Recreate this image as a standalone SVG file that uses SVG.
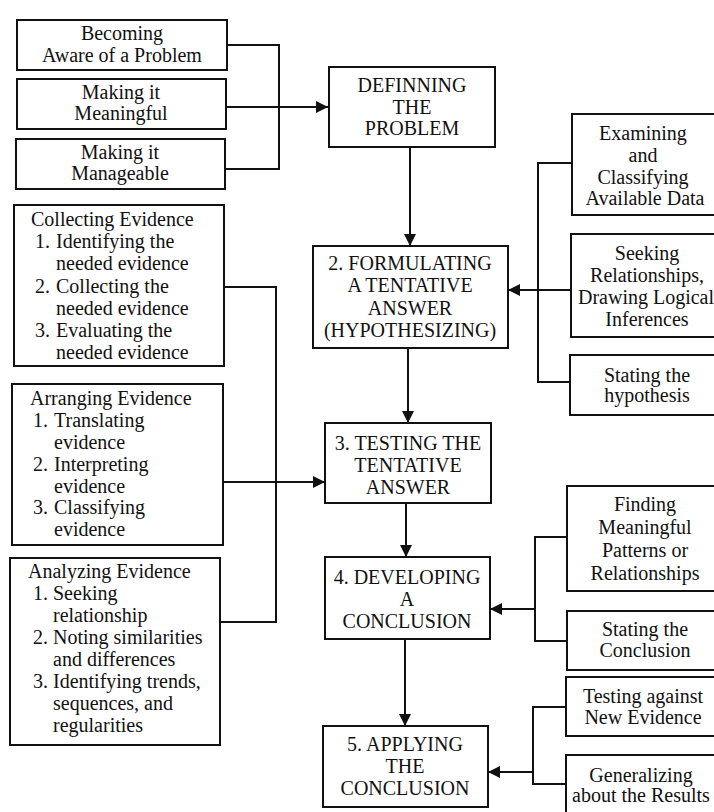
<svg xmlns="http://www.w3.org/2000/svg" width="714" height="812" viewBox="0 0 714 812">
  <style>
    .box { fill: #ffffff; stroke: #111111; stroke-width: 2; }
    .wire { fill: none; stroke: #111111; stroke-width: 2; }
    text { font-family: "Liberation Serif", "Times New Roman", serif; font-size: 20px; fill: #111111; }
    .c { text-anchor: middle; }
  </style>
  <defs>
    <marker id="arrow" markerUnits="userSpaceOnUse" markerWidth="12" markerHeight="12" refX="12" refY="6" orient="auto">
      <path d="M0,0 L12,6 L0,12 z" fill="#111111"/>
    </marker>
  </defs>

  <rect width="714" height="812" fill="#ffffff"/>

  <!-- connectors -->
  <g id="connectors">
    <!-- top-left bracket into step 1 -->
    <polyline class="wire" points="227,45 279,45 279,169 225,169"/>
    <line class="wire" x1="226" y1="107" x2="328" y2="107" marker-end="url(#arrow)"/>
    <!-- main vertical flow -->
    <line class="wire" x1="410" y1="147" x2="410" y2="246" marker-end="url(#arrow)"/>
    <line class="wire" x1="408" y1="348" x2="408" y2="423" marker-end="url(#arrow)"/>
    <line class="wire" x1="406" y1="503" x2="406" y2="557" marker-end="url(#arrow)"/>
    <line class="wire" x1="405" y1="639" x2="405" y2="726" marker-end="url(#arrow)"/>
    <!-- right bracket into step 2 -->
    <polyline class="wire" points="572,163 538,163 538,382 570,382"/>
    <line class="wire" x1="571" y1="290" x2="508" y2="290" marker-end="url(#arrow)"/>
    <!-- left evidence bracket into step 3 -->
    <polyline class="wire" points="224,287 276,287 276,622 220,622"/>
    <line class="wire" x1="223" y1="482" x2="325" y2="482" marker-end="url(#arrow)"/>
    <!-- right bracket into step 4 -->
    <polyline class="wire" points="567,537 535,537 535,641 567,641"/>
    <line class="wire" x1="535" y1="609" x2="490" y2="609" marker-end="url(#arrow)"/>
    <!-- right bracket into step 5 -->
    <polyline class="wire" points="566,707 533,707 533,784 566,784"/>
    <line class="wire" x1="533" y1="772" x2="488" y2="772" marker-end="url(#arrow)"/>
  </g>

  <!-- inputs to defining the problem -->
  <g id="aware">
    <rect class="box" x="17" y="20" width="210" height="50"/>
    <text class="c" x="122" y="40">Becoming</text>
    <text class="c" x="122" y="62">Aware of a Problem</text>
  </g>
  <g id="meaningful">
    <rect class="box" x="17" y="79" width="209" height="50"/>
    <text class="c" x="121" y="99">Making it</text>
    <text class="c" x="121" y="120">Meaningful</text>
  </g>
  <g id="manageable">
    <rect class="box" x="16" y="139" width="209" height="50"/>
    <text class="c" x="120" y="159">Making it</text>
    <text class="c" x="120" y="180">Manageable</text>
  </g>

  <!-- main steps -->
  <g id="step1">
    <rect class="box" x="329" y="67" width="166" height="80"/>
    <text class="c" x="412" y="92">DEFINNING</text>
    <text class="c" x="412" y="114">THE</text>
    <text class="c" x="412" y="135">PROBLEM</text>
  </g>
  <g id="step2">
    <rect class="box" x="313" y="246" width="195" height="102"/>
    <text class="c" x="410" y="270">2. FORMULATING</text>
    <text class="c" x="410" y="292">A TENTATIVE</text>
    <text class="c" x="410" y="315">ANSWER</text>
    <text class="c" x="410" y="337">(HYPOTHESIZING)</text>
  </g>
  <g id="step3">
    <rect class="box" x="325" y="423" width="166" height="80"/>
    <text class="c" x="408" y="450">3. TESTING THE</text>
    <text class="c" x="408" y="472">TENTATIVE</text>
    <text class="c" x="408" y="494">ANSWER</text>
  </g>
  <g id="step4">
    <rect class="box" x="325" y="557" width="165" height="82"/>
    <text class="c" x="407" y="584">4. DEVELOPING</text>
    <text class="c" x="407" y="606">A</text>
    <text class="c" x="407" y="628">CONCLUSION</text>
  </g>
  <g id="step5">
    <rect class="box" x="323" y="726" width="165" height="81"/>
    <text class="c" x="405" y="751">5. APPLYING</text>
    <text class="c" x="405" y="773">THE</text>
    <text class="c" x="405" y="795">CONCLUSION</text>
  </g>

  <!-- hypothesis sub-steps -->
  <g id="examining">
    <rect class="box" x="572" y="114" width="146" height="101"/>
    <text class="c" x="643" y="140">Examining</text>
    <text class="c" x="643" y="162">and</text>
    <text class="c" x="643" y="184">Classifying</text>
    <text class="c" x="645" y="205">Available Data</text>
  </g>
  <g id="seeking">
    <rect class="box" x="571" y="234" width="147" height="103"/>
    <text class="c" x="647" y="260">Seeking</text>
    <text class="c" x="647" y="282">Relationships,</text>
    <text class="c" x="646" y="304">Drawing Logical</text>
    <text class="c" x="647" y="326">Inferences</text>
  </g>
  <g id="stating-hypothesis">
    <rect class="box" x="570" y="355" width="148" height="60"/>
    <text class="c" x="647" y="382">Stating the</text>
    <text class="c" x="647" y="402">hypothesis</text>
  </g>

  <!-- evidence handling -->
  <g id="collecting">
    <rect class="box" x="14" y="205" width="210" height="161"/>
    <text x="31" y="226">Collecting Evidence</text>
    <text x="35" y="248">1.</text>
    <text x="56" y="248">Identifying the</text>
    <text x="56" y="270">needed evidence</text>
    <text x="35" y="293">2.</text>
    <text x="56" y="293">Collecting the</text>
    <text x="56" y="315">needed evidence</text>
    <text x="35" y="337">3.</text>
    <text x="56" y="337">Evaluating the</text>
    <text x="56" y="359">needed evidence</text>
  </g>
  <g id="arranging">
    <rect class="box" x="12" y="384" width="211" height="161"/>
    <text x="30" y="405">Arranging Evidence</text>
    <text x="33" y="427">1.</text>
    <text x="54" y="427">Translating</text>
    <text x="54" y="449">evidence</text>
    <text x="33" y="471">2.</text>
    <text x="54" y="471">Interpreting</text>
    <text x="54" y="493">evidence</text>
    <text x="33" y="514">3.</text>
    <text x="54" y="514">Classifying</text>
    <text x="54" y="536">evidence</text>
  </g>
  <g id="analyzing">
    <rect class="box" x="10" y="558" width="210" height="187"/>
    <text x="28" y="578">Analyzing Evidence</text>
    <text x="33" y="600">1.</text>
    <text x="53" y="600">Seeking</text>
    <text x="53" y="622">relationship</text>
    <text x="33" y="644">2.</text>
    <text x="53" y="644">Noting similarities</text>
    <text x="53" y="666">and differences</text>
    <text x="33" y="688">3.</text>
    <text x="53" y="688">Identifying trends,</text>
    <text x="53" y="710">sequences, and</text>
    <text x="53" y="732">regularities</text>
  </g>

  <!-- conclusion sub-steps -->
  <g id="finding">
    <rect class="box" x="567" y="486" width="151" height="105"/>
    <text class="c" x="645" y="511">Finding</text>
    <text class="c" x="645" y="534">Meaningful</text>
    <text class="c" x="645" y="557">Patterns or</text>
    <text class="c" x="645" y="580">Relationships</text>
  </g>
  <g id="stating-conclusion">
    <rect class="box" x="567" y="611" width="151" height="59"/>
    <text class="c" x="645" y="636">Stating the</text>
    <text class="c" x="645" y="657">Conclusion</text>
  </g>

  <!-- application sub-steps -->
  <g id="testing-evidence">
    <rect class="box" x="566" y="677" width="152" height="59"/>
    <text class="c" x="643" y="703">Testing against</text>
    <text class="c" x="643" y="724">New Evidence</text>
  </g>
  <g id="generalizing">
    <rect class="box" x="566" y="755" width="152" height="70"/>
    <text class="c" x="641" y="782">Generalizing</text>
    <text class="c" x="641" y="802">about the Results</text>
  </g>
</svg>
